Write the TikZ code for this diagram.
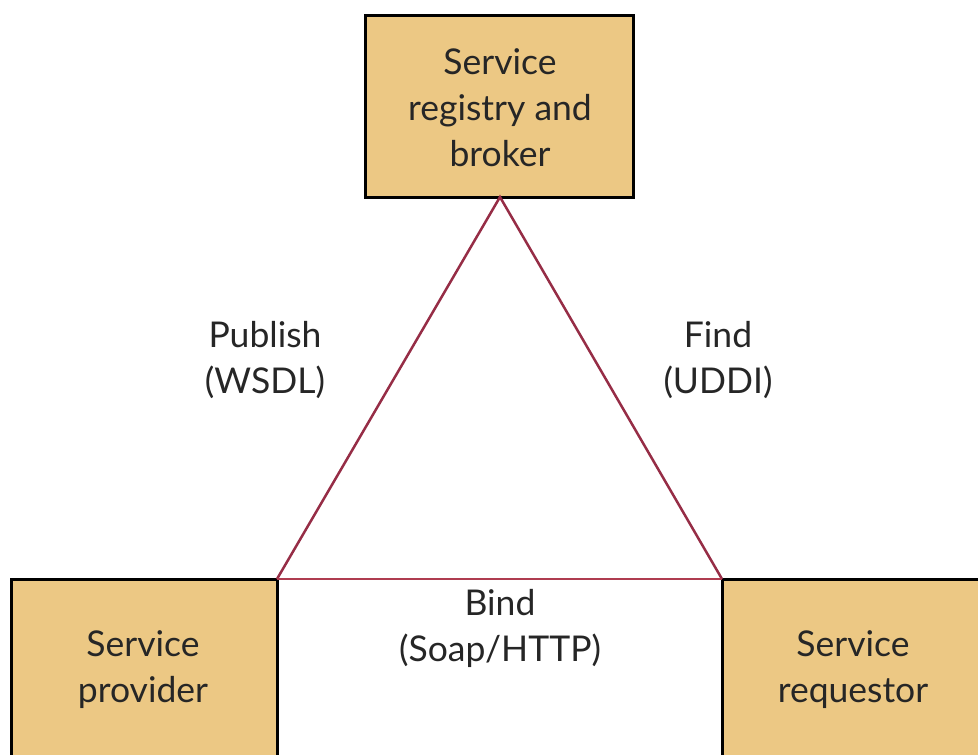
\documentclass[tikz,border=0pt]{standalone}
\usepackage{fontspec}
\setmainfont{Lato}
\begin{document}
\begin{tikzpicture}[x=1pt,y=-1pt,
  box/.style={draw=black,line width=3pt,fill=boxfill},
  lbl/.style={font=\fontsize{35.5}{46}\selectfont,text=black!85,align=center,inner sep=0pt},
  edge/.style={draw=linered,line width=2.5pt}]
\definecolor{boxfill}{RGB}{236,200,132}
\definecolor{linered}{RGB}{150,45,70}
\definecolor{bindred}{RGB}{175,60,80}
\useasboundingbox (0,0) rectangle (978,755);
\begin{scope}
\clip (0,0) rectangle (978,755);
\draw[box] (365,15) rectangle (633,197);
\draw[box] (11,579) rectangle (277,770);
\draw[box] (722,579) rectangle (990,770);
\end{scope}
\coordinate (apex) at (500,197);
\coordinate (pl) at (277,579);
\coordinate (pr) at (722,579);
\draw[edge] (pl) -- (apex) -- (pr);
\draw[edge,draw=bindred] (pl) -- (pr);
\node[lbl] (top) at (500,108) {Service\\registry and\\broker};
\node[lbl] (prov) at (143,670) {Service\\provider};
\node[lbl] (req) at (853,670) {Service\\requestor};
\node[lbl] (pub) at (265,360) {Publish\\(WSDL)};
\node[lbl] (find) at (718,360) {Find\\(UDDI)};
\node[lbl] (bind) at (500,628) {Bind\\(Soap/HTTP)};
\end{tikzpicture}
\end{document}
